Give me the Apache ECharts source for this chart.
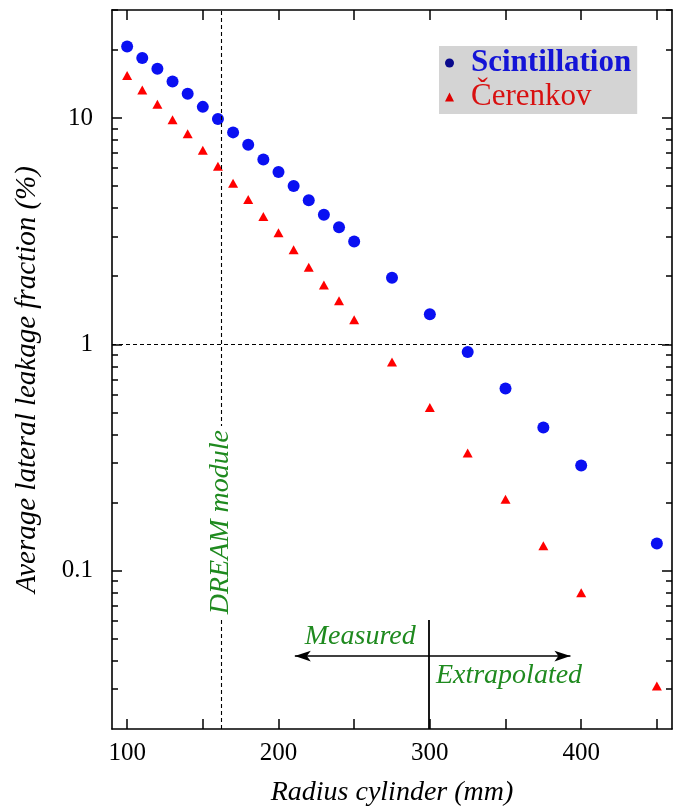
<!DOCTYPE html>
<html>
<head>
<meta charset="utf-8">
<script src="https://cdn.jsdelivr.net/npm/echarts@6/dist/echarts.min.js"></script>
<style>
  html, body { margin: 0; padding: 0; background: #ffffff; }
  #chart { width: 681px; height: 810px; }
</style>
</head>
<body>
<div id="chart"></div>
<script>
// Cylinder radius (mm) at which the lateral leakage was evaluated
const radius = [100, 110, 120, 130, 140, 150, 160, 170, 180, 190, 200, 210, 220, 230, 240, 250, 275, 300, 325, 350, 375, 400, 450];
// Average lateral leakage fraction (%) of the scintillation signal
const scintillation = [20.7, 18.4, 16.5, 14.5, 12.8, 11.2, 9.9, 8.64, 7.62, 6.55, 5.78, 5.01, 4.33, 3.74, 3.29, 2.85, 1.97, 1.36, 0.925, 0.638, 0.429, 0.292, 0.132];
// Average lateral leakage fraction (%) of the Čerenkov signal
const cerenkov = [15.4, 13.3, 11.5, 9.83, 8.52, 7.2, 6.12, 5.15, 4.37, 3.67, 3.11, 2.62, 2.19, 1.83, 1.56, 1.285, 0.836, 0.526, 0.331, 0.207, 0.129, 0.080, 0.031];

// Axis ticks and labels
const xTicks = [100, 150, 200, 250, 300, 350, 400, 450];
const xLabels = [100, 200, 300, 400];
const yMajor = [0.1, 1, 10];
const yMinor = [0.03, 0.04, 0.05, 0.06, 0.07, 0.08, 0.09,
                0.2, 0.3, 0.4, 0.5, 0.6, 0.7, 0.8, 0.9,
                2, 3, 4, 5, 6, 7, 8, 9, 20, 30];

// Annotation anchors, in data units
const dreamRadius = 162;          // radius equivalent of the DREAM module
const measuredLimit = 300;        // last measured radius
const arrowSpan = [210.8, 392.9]; // horizontal extent of the double arrow
const arrowLevel = 0.042;
const dividerTop = 0.0606;

const X_RANGE = [90, 460];
const Y_RANGE = [0.02, 30];

const serif = '"Liberation Serif", "Times New Roman", serif';
const green = '#1f8a1f';
const blackLine = { color: '#000', width: 1.6 };

const chart = echarts.init(document.getElementById('chart'), null, { renderer: 'canvas' });

const zip = (xs, ys) => xs.map((x, i) => [x, ys[i]]);

function xAxisDef(position, withLabels) {
  return {
    type: 'value', position, min: X_RANGE[0], max: X_RANGE[1],
    axisLine: { show: true, onZero: false, lineStyle: blackLine },
    axisTick: { show: true, inside: true, length: 10, lineStyle: { color: '#000', width: 1.5 }, customValues: xTicks },
    axisLabel: withLabels
      ? { show: true, customValues: xLabels, margin: 12, color: '#000', fontSize: 25, fontFamily: serif }
      : { show: false },
    splitLine: { show: false }
  };
}

function yAxisDef(position, values, len, showLine, withLabels) {
  return {
    type: 'log', position, min: Y_RANGE[0], max: Y_RANGE[1], logBase: 10,
    axisLine: { show: showLine, onZero: false, lineStyle: blackLine },
    axisTick: { show: true, inside: true, length: len, lineStyle: { color: '#000', width: 1.5 }, customValues: values },
    axisLabel: withLabels
      ? { show: true, customValues: values, margin: 19, color: '#000', fontSize: 25, fontFamily: serif,
          formatter: v => String(+(+v).toPrecision(3)) }
      : { show: false },
    splitLine: { show: false },
    minorTick: { show: false }
  };
}

const yAxes = [
  yAxisDef('left', yMajor, 10, true, true),
  yAxisDef('left', yMinor, 6, false, false),
  yAxisDef('right', yMajor, 10, true, false),
  yAxisDef('right', yMinor, 6, false, false)
];
Object.assign(yAxes[0], {
  name: 'Average lateral leakage fraction (%)',
  nameLocation: 'middle',
  nameGap: 70,
  nameTextStyle: { fontSize: 29, fontStyle: 'italic', fontFamily: serif, color: '#000', padding: [0, 20, 0, 0] }
});

const xAxes = [xAxisDef('bottom', true), xAxisDef('top', false)];
Object.assign(xAxes[0], {
  name: 'Radius cylinder (mm)',
  nameLocation: 'middle',
  nameGap: 50,
  nameTextStyle: { fontSize: 28, fontStyle: 'italic', fontFamily: serif, color: '#000' }
});

const dashed = { color: '#000', width: 1.1, type: [4, 3] };

chart.setOption({
  animation: false,
  backgroundColor: '#ffffff',
  grid: { left: 112, right: 9, top: 10, bottom: 81, containLabel: false, outerBoundsMode: 'none' },
  xAxis: xAxes,
  yAxis: yAxes,
  legend: {
    orient: 'vertical',
    left: 439, top: 46,
    backgroundColor: '#d4d4d4',
    padding: [0, 6, 0, 6],
    itemGap: 0,
    itemWidth: 9,
    itemHeight: 9,
    selectedMode: false,
    textStyle: { fontSize: 31, fontFamily: serif, lineHeight: 34, padding: [0, 0, 0, 12] },
    data: [
      { name: 'Scintillation', icon: 'circle', itemStyle: { color: '#0a0a8c' },
        textStyle: { color: '#1414d6', fontWeight: 'bold' } },
      { name: 'Čerenkov', icon: 'triangle', itemStyle: { color: '#e00000' },
        textStyle: { color: '#d81010', fontWeight: 'normal' } }
    ]
  },
  series: [
    {
      name: 'Scintillation', type: 'scatter', xAxisIndex: 0, yAxisIndex: 0,
      symbol: 'circle', symbolSize: 12,
      itemStyle: { color: '#0a10f2', opacity: 1 },
      data: zip(radius, scintillation),
      z: 3,
      markLine: {
        silent: true, symbol: ['none', 'none'], label: { show: false },
        animation: false,
        data: [
          { yAxis: 1, lineStyle: dashed },
          { xAxis: dreamRadius, lineStyle: dashed },
          [
            { coord: [arrowSpan[0], arrowLevel], symbol: 'arrow', symbolSize: [8, 16], lineStyle: { color: '#000', width: 1.5, type: 'solid' } },
            { coord: [arrowSpan[1], arrowLevel], symbol: 'arrow', symbolSize: [8, 16] }
          ],
          [
            { coord: [measuredLimit - 1, dividerTop], lineStyle: { color: '#000', width: 1.8, type: 'solid' } },
            { coord: [measuredLimit - 1, Y_RANGE[0]] }
          ]
        ]
      }
    },
    {
      name: 'Čerenkov', type: 'scatter', xAxisIndex: 0, yAxisIndex: 0,
      symbol: 'triangle', symbolSize: [10, 9],
      itemStyle: { color: '#ff0000', opacity: 1 },
      data: zip(radius, cerenkov),
      z: 3
    }
  ]
});

// Text annotations placed at data positions
const at = (x, y) => chart.convertToPixel({ xAxisIndex: 0, yAxisIndex: 0 }, [x, y]);
const dreamPos = at(dreamRadius, 0.164);
const measuredPos = at(254, 0.0511);
const extrapPos = at(352.3, 0.0343);
const annoFont = 'italic 28px ' + serif;

chart.setOption({
  graphic: [
    {
      type: 'text', x: dreamPos[0], y: dreamPos[1], rotation: Math.PI / 2, z: 10,
      style: { text: 'DREAM module', font: annoFont, fill: green, align: 'center', verticalAlign: 'middle',
               backgroundColor: '#ffffff', padding: [0, 4, 0, 4] }
    },
    {
      type: 'text', x: measuredPos[0], y: measuredPos[1], z: 10,
      style: { text: 'Measured', font: annoFont, fill: green, align: 'center', verticalAlign: 'middle' }
    },
    {
      type: 'text', x: extrapPos[0], y: extrapPos[1], z: 10,
      style: { text: 'Extrapolated', font: annoFont, fill: green, align: 'center', verticalAlign: 'middle' }
    }
  ]
});
</script>
</body>
</html>
